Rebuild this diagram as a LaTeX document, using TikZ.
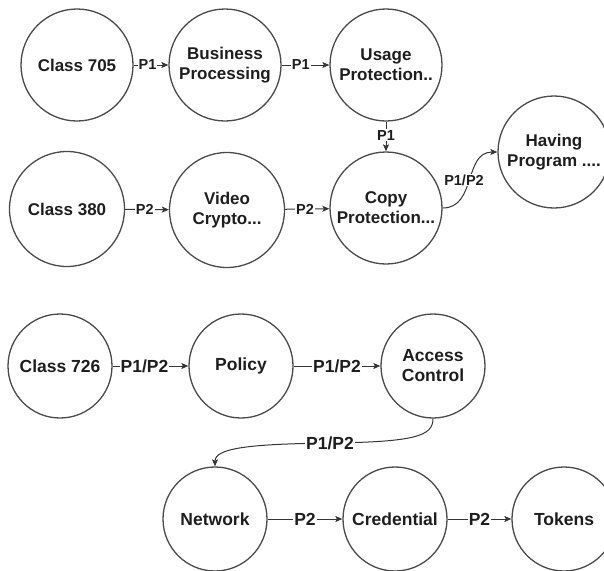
\documentclass[tikz,border=0pt]{standalone}
\usepackage{fontspec}
\setmainfont{Liberation Sans}
\usetikzlibrary{arrows.meta}
\definecolor{ink}{HTML}{1E1E1E}
\definecolor{ring}{HTML}{4A4A4A}
\tikzset{
  circ/.style={circle, draw=ring, line width=1.3pt, inner sep=0pt, align=center,
    text=ink, font=\bfseries\fontsize{17}{20}\selectfont},
  circtop/.style={circ, minimum size=112pt},
  circmid/.style={circ, minimum size=115pt},
  circbot/.style={circ, minimum size=104pt, font=\bfseries\fontsize{17.5}{20}\selectfont},
  edge/.style={draw=ink!90, line width=1pt, -{Stealth[length=7pt,width=6pt,inset=1.5pt]}},
  lbl/.style={fill=white, inner sep=1pt, text=ink, font=\bfseries\fontsize{14.5}{16}\selectfont},
  lblbig/.style={fill=white, inner sep=1pt, text=ink, font=\bfseries\fontsize{17.5}{19}\selectfont}
}
\begin{document}
\begin{tikzpicture}[x=1pt,y=-1pt]
\useasboundingbox (0,0) rectangle (604,570);
\begin{scope}
\clip (0,0) rectangle (604,570);
% row 1
\node[circtop] (c705) at (77,65) {Class 705};
\node[circtop] (bp) at (225,65) {Business\\Processing};
\node[circtop] (up) at (386,65) {Usage\\Protection..};
% row 2
\node[circmid] (c380) at (67,209) {Class 380};
\node[circmid] (vc) at (227,210) {Video\\Crypto...};
\node[circtop] (cp) at (386,208) {Copy\\Protection...};
\node[circtop] (hp) at (554,152) {Having\\Program ....};
% row 3
\node[circbot] (c726) at (60,366) {Class 726};
\node[circbot] (pol) at (241,366) {Policy};
\node[circbot] (ac) at (433,366) {Access\\Control};
% row 4
\node[circbot] (net) at (215,519) {Network};
\node[circbot] (cred) at (395,519) {Credential};
\node[circbot] (tok) at (564,519) {Tokens};
% edges
\draw[edge] (c705) -- node[lbl, pos=0.4] {P1} (bp);
\draw[edge] (bp) -- node[lbl, pos=0.4] {P1} (up);
\draw[edge] (up) -- node[lbl, pos=0.45] {P1} (cp);
\draw[edge] (c380) -- node[lbl, pos=0.45] {P2} (vc);
\draw[edge] (vc) -- node[lbl, pos=0.45] {P2} (cp);
\draw[edge] (cp.east) to[out=0, in=180, looseness=1.1]
   node[lbl, pos=0.5, xshift=-6pt] {P1/P2} (hp.west);
\draw[edge] (c726) -- node[lblbig, pos=0.42] {P1/P2} (pol);
\draw[edge] (pol) -- node[lblbig, pos=0.5] {P1/P2} (ac);
\draw[edge] (ac.south) .. controls (433,436) and (415,442) .. (330,443)
   node[lblbig] {P1/P2}
   .. controls (250,444) and (215,448) .. (net.north);
\draw[edge] (net) -- node[lblbig, pos=0.5] {P2} (cred);
\draw[edge] (cred) -- node[lblbig, pos=0.5] {P2} (tok);
\end{scope}
\end{tikzpicture}
\end{document}
